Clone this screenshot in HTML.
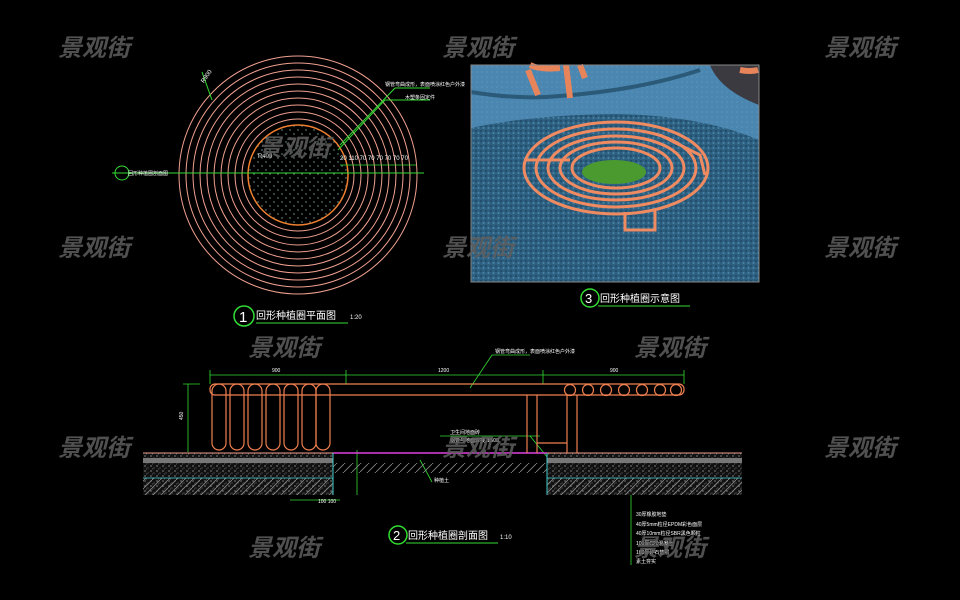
<!DOCTYPE html>
<html><head><meta charset="utf-8"><style>
html,body{margin:0;padding:0;background:#000;}
svg{display:block;}
.wm{font-family:"Liberation Sans","Noto Sans CJK SC",sans-serif;font-size:24px;font-weight:bold;font-style:italic;fill:#5e5e5e;opacity:.85}
.t{font-family:"Liberation Sans","Noto Sans CJK SC",sans-serif;fill:#fff}
</style></head><body>
<svg width="960" height="600" viewBox="0 0 960 600" xmlns="http://www.w3.org/2000/svg">
<defs>
<pattern id="dots" width="8" height="8" patternUnits="userSpaceOnUse"><circle cx="2" cy="2" r="0.7" fill="#7a9"/><circle cx="6" cy="6" r="0.7" fill="#7a9"/></pattern>
<pattern id="sp" width="6" height="5" patternUnits="userSpaceOnUse"><rect width="6" height="5" fill="#111"/><circle cx="1" cy="1" r=".6" fill="#ccc"/><circle cx="4" cy="3" r=".5" fill="#999"/><circle cx="2.5" cy="4" r=".4" fill="#bbb"/></pattern>
<pattern id="hat" width="8" height="8" patternUnits="userSpaceOnUse"><path d="M0 8 L8 0" stroke="#888" stroke-width=".8"/></pattern>
<pattern id="noise" width="5" height="5" patternUnits="userSpaceOnUse"><rect width="5" height="5" fill="#2d5f80"/><circle cx="1" cy="1" r="1" fill="#1f4a66"/><circle cx="3.5" cy="3" r="1" fill="#4a86a8"/></pattern>
<pattern id="noise2" width="5" height="5" patternUnits="userSpaceOnUse"><rect width="5" height="5" fill="#4a86b0"/><circle cx="2" cy="2" r="1" fill="#5590b8"/></pattern>
</defs>

<!-- Plan view -->
<g fill="none">
<circle cx="298" cy="175" r="50" fill="url(#dots)"/>
<g stroke="#f0a090" stroke-width="1">
<circle cx="298" cy="175" r="56"/><circle cx="298" cy="175" r="63"/><circle cx="298" cy="175" r="70"/><circle cx="298" cy="175" r="77"/><circle cx="298" cy="175" r="84"/><circle cx="298" cy="175" r="91"/><circle cx="298" cy="175" r="98"/><circle cx="298" cy="175" r="105"/><circle cx="298" cy="175" r="112"/><circle cx="298" cy="175" r="119"/>
</g>
<circle cx="298" cy="175" r="50" stroke="#f08030" stroke-width="1.5"/>
<line x1="112" y1="173" x2="424" y2="173" stroke="#33dd33"/>
<line x1="340" y1="165" x2="416" y2="165" stroke="#33dd33" stroke-width=".8"/>
<line x1="212" y1="100" x2="202" y2="72" stroke="#33dd33"/>
<line x1="338" y1="150" x2="385" y2="100" stroke="#33dd33"/>
<line x1="340" y1="145" x2="395" y2="88" stroke="#33dd33"/>
<line x1="385" y1="100" x2="430" y2="100" stroke="#33dd33"/>
<line x1="395" y1="88" x2="430" y2="88" stroke="#33dd33"/>
<circle cx="122" cy="173" r="7" stroke="#33dd33"/>
</g>
<text class="t" x="128" y="175" font-size="5">回形种植圈剖面图</text>
<text class="t" x="340" y="160" font-size="6">20 110 70 70 70 70 70 70</text>
<text class="t" x="200" y="80" font-size="6" transform="rotate(-55 205 78)">R900</text>
<text class="t" x="258" y="158" font-size="6">R400</text>
<text class="t" x="385" y="86" font-size="5">钢管弯曲成形，表面喷涂红色户外漆</text>
<text class="t" x="405" y="99" font-size="5">木塑条固定件</text>
<circle cx="244" cy="316" r="10" fill="none" stroke="#33dd33" stroke-width="1.5"/>
<text class="t" x="239" y="322" font-size="15" font-family="Liberation Serif">1</text>
<text class="t" x="256" y="319" font-size="10">回形种植圈平面图</text>
<text class="t" x="350" y="319" font-size="6">1:20</text>
<line x1="256" y1="323" x2="348" y2="323" stroke="#33dd33"/>

<!-- Rendering -->
<rect x="471" y="65" width="288" height="217" fill="url(#noise)"/>
<path d="M471 65 H759 V140 Q700 115 615 114 Q530 115 471 128 Z" fill="url(#noise2)"/>
<path d="M471 92 Q520 100 560 96 Q640 90 700 70" stroke="#2a5a78" stroke-width="4" fill="none"/>
<path d="M710 65 Q720 90 759 105 V65 Z" fill="#3a3a40"/>
<path d="M530 65 Q540 70 560 68 M528 70 L538 95 M566 65 L570 98 M580 65 L585 78 M740 70 Q750 72 758 70" stroke="#e8845a" stroke-width="6" fill="none"/>
<g fill="none" stroke="#f08a60" stroke-width="3">
<ellipse cx="616" cy="168" rx="92" ry="46"/>
<ellipse cx="616" cy="168" rx="80" ry="39"/>
<ellipse cx="616" cy="168" rx="68" ry="32"/>
<ellipse cx="616" cy="168" rx="56" ry="26"/>
<ellipse cx="616" cy="168" rx="44" ry="20"/>
<path d="M625 212 V230 H655 V210"/>
<path d="M525 160 H570"/>
<path d="M660 135 L680 145 L700 155 L705 175"/>
</g>
<ellipse cx="614" cy="172" rx="32" ry="12" fill="#4a9a30"/>
<rect x="471" y="65" width="288" height="217" fill="none" stroke="#888"/>
<circle cx="590" cy="298" r="9" fill="none" stroke="#33dd33" stroke-width="1.5"/>
<text class="t" x="585" y="303" font-size="13" font-family="Liberation Serif">3</text>
<text class="t" x="600" y="302" font-size="10">回形种植圈示意图</text>
<line x1="598" y1="306" x2="690" y2="306" stroke="#33dd33"/>

<!-- Section -->
<g stroke="#33dd33" stroke-width=".8" fill="none">
<line x1="210" y1="375" x2="684" y2="375"/>
<line x1="210" y1="370" x2="210" y2="384"/><line x1="346" y1="370" x2="346" y2="384"/><line x1="543" y1="370" x2="543" y2="384"/><line x1="684" y1="370" x2="684" y2="384"/>
<line x1="188" y1="384" x2="188" y2="452"/><line x1="183" y1="384" x2="200" y2="384"/>
<line x1="470" y1="388" x2="492" y2="355"/><line x1="492" y1="355" x2="530" y2="355"/>
<line x1="440" y1="436" x2="540" y2="436"/><line x1="530" y1="436" x2="548" y2="458"/>
<line x1="420" y1="460" x2="432" y2="482"/>
<line x1="357" y1="450" x2="357" y2="495"/>
<line x1="290" y1="500" x2="340" y2="500"/>
<line x1="631" y1="465" x2="631" y2="565"/>
</g>
<text class="t" x="272" y="372" font-size="5">900</text><text class="t" x="438" y="372" font-size="5">1200</text><text class="t" x="610" y="372" font-size="5">900</text>
<text class="t" x="495" y="353" font-size="5">钢管弯曲成形，表面喷涂红色户外漆</text>
<text class="t" x="450" y="434" font-size="5">卫生间地面砖</text><text class="t" x="450" y="442" font-size="5">钢管与地面焊接 Φ500</text>
<text class="t" x="183" y="420" font-size="5" transform="rotate(-90 183 420)">450</text>
<text class="t" x="434" y="482" font-size="5">种植土</text>
<text class="t" x="318" y="503" font-size="5">100 100</text>
<g>
<text class="t" x="636" y="516" font-size="5">30厚橡胶地垫</text><text class="t" x="636" y="526" font-size="5">40厚5mm粒径EPDM彩色面层</text><text class="t" x="636" y="535" font-size="5">40厚10mm粒径SBR黑色颗粒</text><text class="t" x="636" y="545" font-size="5">100厚C20混凝土</text><text class="t" x="636" y="554" font-size="5">100厚碎石垫层</text><text class="t" x="636" y="563" font-size="5">素土夯实</text>
</g>
<rect x="143" y="453" width="190" height="42" fill="url(#sp)"/>
<rect x="547" y="453" width="195" height="42" fill="url(#sp)"/>
<rect x="143" y="458" width="190" height="5" fill="#777"/>
<rect x="547" y="458" width="195" height="5" fill="#777"/>
<rect x="143" y="478" width="190" height="17" fill="url(#hat)"/>
<rect x="547" y="478" width="195" height="17" fill="url(#hat)"/>
<rect x="333" y="463" width="214" height="10" fill="url(#hat)"/>
<line x1="143" y1="453" x2="742" y2="453" stroke="#f0a090"/>
<line x1="333" y1="453" x2="547" y2="453" stroke="#e040e0" stroke-width="1.5"/>
<line x1="143" y1="478" x2="333" y2="478" stroke="#4cc" stroke-width=".8"/>
<line x1="547" y1="478" x2="742" y2="478" stroke="#4cc" stroke-width=".8"/>
<line x1="333" y1="453" x2="333" y2="495" stroke="#4cc"/>
<line x1="547" y1="453" x2="547" y2="495" stroke="#4cc"/>
<g fill="none" stroke="#f08050" stroke-width="1.2">
<rect x="210" y="384" width="474" height="11" rx="5"/>
<rect x="212" y="384" width="14" height="66" rx="7"/><rect x="230" y="384" width="14" height="66" rx="7"/><rect x="248" y="384" width="14" height="66" rx="7"/><rect x="266" y="384" width="14" height="66" rx="7"/><rect x="284" y="384" width="14" height="66" rx="7"/><rect x="302" y="384" width="14" height="66" rx="7"/><rect x="316" y="384" width="14" height="66" rx="7"/>
<line x1="527" y1="395" x2="527" y2="453"/><line x1="537" y1="395" x2="537" y2="453"/>
<line x1="567" y1="395" x2="567" y2="453"/><line x1="577" y1="395" x2="577" y2="453"/>
<line x1="537" y1="443" x2="567" y2="443"/>
<circle cx="570" cy="390" r="5.5"/><circle cx="588" cy="390" r="5.5"/><circle cx="606" cy="390" r="5.5"/><circle cx="624" cy="390" r="5.5"/><circle cx="642" cy="390" r="5.5"/><circle cx="660" cy="390" r="5.5"/><circle cx="676" cy="390" r="5.5"/>
</g>
<circle cx="398" cy="535" r="9" fill="none" stroke="#33dd33" stroke-width="1.5"/>
<text class="t" x="393" y="540" font-size="13" font-family="Liberation Serif">2</text>
<text class="t" x="408" y="539" font-size="10">回形种植圈剖面图</text>
<text class="t" x="500" y="539" font-size="6">1:10</text>
<line x1="406" y1="543" x2="498" y2="543" stroke="#33dd33"/>

<g>
<text class="wm" x="58" y="56">景观街</text><text class="wm" x="442" y="56">景观街</text><text class="wm" x="824" y="56">景观街</text>
<text class="wm" x="58" y="256">景观街</text><text class="wm" x="442" y="256">景观街</text><text class="wm" x="824" y="256">景观街</text>
<text class="wm" x="248" y="356">景观街</text><text class="wm" x="634" y="356">景观街</text>
<text class="wm" x="58" y="456">景观街</text><text class="wm" x="442" y="456">景观街</text><text class="wm" x="824" y="456">景观街</text>
<text class="wm" x="248" y="556">景观街</text><text class="wm" x="634" y="556">景观街</text>
<text class="wm" x="258" y="156">景观街</text>
</g>
</svg>
</body></html>
